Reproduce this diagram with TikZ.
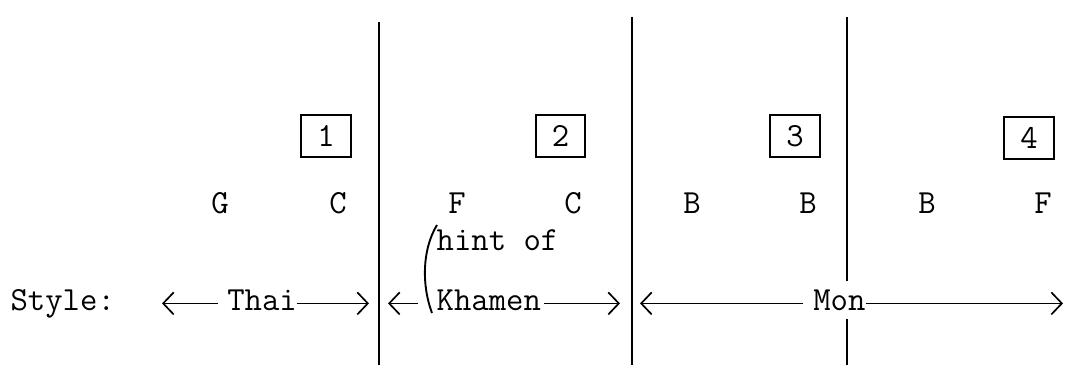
\documentclass[tikz,border=0pt]{standalone}
\usepackage{fontspec}
\usetikzlibrary{arrows.meta}
\newcommand{\typer}{\ttfamily\fontsize{16}{19}\selectfont\addfontfeatures{FakeStretch=1.12,FakeBold=1.5}}
\tikzset{
  lbl/.style={font=\typer, inner sep=0pt, anchor=base},
  numbox/.style={font=\typer, draw, line width=0.9pt, minimum width=0.83cm, minimum height=0.7cm},
  divider/.style={line width=0.9pt},
  arr/.style={line width=0.8pt, -{Straight Barb[length=5pt,width=10.5pt]}}
}
\begin{document}
\begin{tikzpicture}
    \useasboundingbox (0,0) rectangle (17.75,6.1167);
    % Linee di separazione
    \coordinate (d1t) at (6.317,5.75);  \coordinate (d1b) at (6.317,0.03);
    \coordinate (d2t) at (10.533,5.83); \coordinate (d2b) at (10.533,0.03);
    \coordinate (d3t) at (14.117,5.83); \coordinate (d3b) at (14.117,0.03);
    \draw[divider] (d1t) -- (d1b);
    \draw[divider] (d2t) -- (d2b);
    \draw[divider] (d3t) -- (d3b);
    % Caselle numerate
    \node[numbox] (box1) at (5.433,3.85) {1};
    \node[numbox] (box2) at (9.342,3.85) {2};
    \node[numbox] (box3) at (13.25,3.85) {3};
    \node[numbox] (box4) at (17.15,3.82) {4};
    % Lettere
    \node[lbl] (g1) at (3.667,2.56) {G};
    \node[lbl] (c1) at (5.633,2.56) {C};
    \node[lbl] (f2) at (7.617,2.56) {F};
    \node[lbl] (c2) at (9.55,2.56) {C};
    \node[lbl] (b3) at (11.533,2.56) {B};
    \node[lbl] (b3r) at (13.467,2.56) {B};
    \node[lbl] (b4) at (15.45,2.56) {B};
    \node[lbl] (f4) at (17.383,2.56) {F};
    % Stili
    \node[lbl, anchor=base west] (style) at (0.17,0.95) {Style:};
    \node[lbl] (thai) at (4.367,0.95) {Thai};
    \node[lbl, anchor=base west] (hint) at (7.27,1.95) {hint of};
    \node[lbl, anchor=base west] (khamen) at (7.27,0.95) {Khamen};
    \node[lbl, fill=white, inner ysep=0.14cm] (mon) at (13.99,0.95) {Mon};
    \draw[line width=0.9pt] (7.283,2.367) .. controls (7.03,1.95) and (7.03,1.35) .. (7.2,0.9);
    % Frecce
    \coordinate (thaiL) at (2.7,1.06);
    \coordinate (thaiR) at (6.15,1.06);
    \coordinate (khaL) at (6.467,1.06);
    \coordinate (khaR) at (10.333,1.06);
    \coordinate (monL) at (10.667,1.06);
    \coordinate (monR) at (17.717,1.06);
    \draw[arr, shorten <=0.15cm] (thai.west |- thaiL) -- (thaiL);
    \draw[arr] (thai.east |- thaiR) -- (thaiR);
    \draw[arr, shorten <=0.3cm] (khamen.west |- khaL) -- (khaL);
    \draw[arr, shorten <=0.05cm] (khamen.east |- khaR) -- (khaR);
    \draw[arr, shorten <=0.17cm] (mon.west |- monL) -- (monL);
    \draw[arr] (mon.east |- monR) -- (monR);
\end{tikzpicture}
\end{document}
